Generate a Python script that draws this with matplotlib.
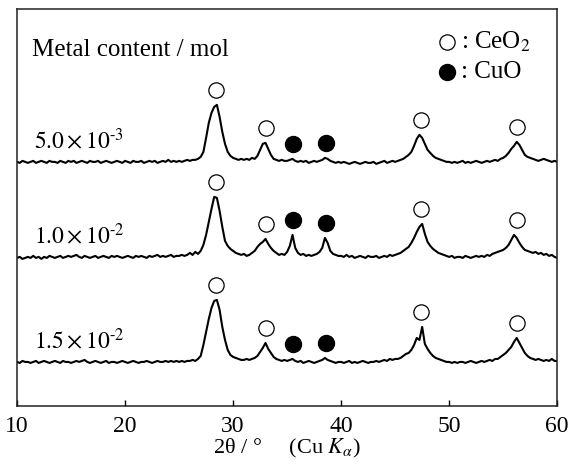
import numpy as np
import matplotlib
matplotlib.use("Agg")
import matplotlib.pyplot as plt

plt.rcParams["font.family"] = ["Liberation Serif", "DejaVu Serif"]
plt.rcParams["mathtext.fontset"] = "stix"

# 2theta grid, 10..60 deg in 0.25 deg steps
two_theta = np.arange(10.0, 60.001, 0.25)

# intensities (a.u.), one row = 5 deg
int_5e3 = [
    0, -1, 1, 0, -1, 0, 1, -1, 0, 1, 0, -1, 1, 0, 0, -1, 1, 0, -1, 1,
    0, 1, -1, 0, 1, 0, -1, 1, 0, 0, 1, -1, 0, 1, 0, -1, 0, 1, 0, -1,
    1, 0, -1, 1, 0, 0, 1, -1, 0, 1, 0, 1, -1, 0, 1, 0, 2, 0, 1, 0,
    1, 0, 1, 2, 1, 2, 2, 3, 5, 10, 24, 39, 49, 55, 57, 45, 30, 18, 10, 6,
    4, 3, 2, 3, 2, 3, 2, 4, 3, 6, 12, 18, 19, 13, 7, 3, 2, 1, 2, 1,
    1, 2, 3, 1, 0, 1, 0, 1, -1, 0, 1, 0, 1, 2, 4, 3, 1, 0, -1, 0,
    -1, 0, -1, -2, -1, 0, -1, -2, -1, 0, -1, -1, 0, -2, -1, 0, 1, -1, 0, 1,
    0, 1, 2, 3, 5, 7, 10, 16, 23, 27, 24, 18, 12, 9, 6, 4, 3, 2, 1, 0,
    0, -1, 0, -1, 0, 1, -1, 0, -1, 0, 1, 0, -1, 0, 1, 0, 1, 2, 1, 3,
    4, 6, 9, 13, 16, 20, 17, 12, 7, 5, 4, 3, 2, 1, 2, 3, 2, 1, 0, 1,
    0,
]
int_1e2 = [
    -1, 0, -2, -1, 0, -1, 1, -1, 0, -2, 0, -1, 1, 0, -1, 0, 1, -1, 0, 1,
    0, 1, 2, 0, -1, 1, 0, -1, 0, 1, -1, 0, 1, 0, -1, 1, 0, 1, 0, -1,
    0, 1, 0, -1, 1, 0, 1, 0, -1, 1, 0, 1, 2, 0, 1, 0, 1, 2, 0, 1,
    1, 2, 1, 2, 4, 2, 5, 3, 6, 12, 22, 35, 48, 60, 59, 46, 30, 16, 11, 8,
    6, 4, 3, 2, 3, 1, 2, 4, 6, 10, 13, 15, 18, 13, 9, 6, 4, 2, 3, 2,
    5, 11, 22, 9, 4, 2, 3, 1, 2, 1, 2, 3, 5, 9, 19, 14, 6, 3, 2, 1,
    1, 0, 2, 0, 1, -1, 0, 1, 0, -1, 1, 0, 0, 1, -1, 0, 1, 0, 2, 1,
    2, 3, 4, 6, 8, 10, 14, 19, 25, 30, 33, 23, 15, 11, 8, 6, 4, 3, 2, 1,
    0, 1, -1, 0, 0, -1, 1, 0, -1, 0, 1, 0, 1, 0, 2, 1, 3, 4, 5, 6,
    7, 9, 12, 17, 22, 19, 14, 10, 7, 6, 5, 4, 5, 3, 4, 2, 3, 1, 2, 0,
    -1,
]
int_15e2 = [
    0, -1, 1, 0, 0, -1, 0, 1, -1, 0, 1, 0, -1, 0, 1, 0, -1, 1, 0, 0,
    -1, 0, 1, 0, 1, 2, 0, -1, 0, 1, 0, -1, 0, 1, -1, 0, 0, -1, 0, 1,
    0, -1, 0, 1, 0, -1, 0, 0, 1, 0, -1, 0, 1, 0, 0, 1, 0, 1, 0, 1,
    0, 1, 0, 1, 1, 2, 1, 3, 6, 17, 30, 43, 54, 61, 62, 52, 35, 22, 12, 7,
    5, 4, 3, 2, 2, 3, 2, 3, 4, 6, 10, 14, 19, 13, 9, 5, 3, 2, 1, 2,
    1, 2, 3, 1, 0, 1, -1, 0, 1, 0, -1, 0, 1, 2, 4, 2, 1, 0, -1, 0,
    0, -1, 0, 1, -1, 0, -1, 0, 1, 0, -1, 0, 0, 1, 0, 1, 2, 1, 3, 2,
    3, 3, 4, 6, 8, 9, 12, 17, 24, 22, 35, 18, 13, 9, 6, 4, 3, 2, 1, 0,
    0, -1, 0, -1, 0, 0, -1, 0, 1, 0, -1, 0, 1, 0, 1, 2, 1, 3, 3, 5,
    7, 9, 12, 15, 20, 24, 19, 14, 9, 6, 4, 3, 2, 3, 2, 1, 2, 1, 3, 1,
    1,
]

samples = ["$5.0\\times10^{\\text{-}3}$", "$1.0\\times10^{\\text{-}2}$",
           "$1.5\\times10^{\\text{-}2}$"]
patterns = [int_5e3, int_1e2, int_15e2]
offsets = [244, 149, 44]

ceo2_peaks = [28.4, 33.0, 47.4, 56.3]
cuo_peaks = [35.5, 38.6]

fig = plt.figure(figsize=(5.68, 4.65), dpi=100)
ax = fig.add_axes([0.030, 0.127, 0.951, 0.854])

open_mk = dict(marker="o", ms=11, mfc="white", mec="black", mew=0.9, ls="none")
full_mk = dict(marker="o", ms=11.5, color="black", ls="none")

for name, y, off in zip(samples, patterns, offsets):
    y = np.array(y, dtype=float)
    ax.plot(two_theta, y + off, color="black", lw=1.5)
    ax.text(11.6, off + 21, name, fontsize=17, va="center", ha="left")
    for p in ceo2_peaks:
        m = np.abs(two_theta - p) <= 0.4
        ax.plot(p, y[m].max() + off + 15, **open_mk)
    for p in cuo_peaks:
        m = np.abs(two_theta - p) <= 0.4
        ax.plot(p, y[m].max() + off + 15, **full_mk)

ax.text(0.028, 0.897, "Metal content / mol", transform=ax.transAxes,
        fontsize=18, va="center", ha="left")

# phase key
ax.plot(0.796, 0.917, transform=ax.transAxes, **open_mk)
ax.plot(0.796, 0.841, transform=ax.transAxes, **full_mk)
ax.text(0.822, 0.917, ": CeO$_2$", transform=ax.transAxes, fontsize=18,
        va="center", ha="left")
ax.text(0.822, 0.841, ": CuO", transform=ax.transAxes, fontsize=18,
        va="center", ha="left")

ax.set_xlim(10, 60)
ax.set_ylim(0, 397)
ax.set_yticks([])
ax.set_xticks([10, 20, 30, 40, 50, 60])
ax.tick_params(axis="x", direction="in", length=4, width=1,
               labelsize=17, pad=7)
for s in ax.spines.values():
    s.set_linewidth(1.1)
    s.set_color("#222222")
ax.set_xlabel("2θ / °     (Cu $K_{\\alpha}$)", fontsize=16, labelpad=0)

fig.savefig("out.png", dpi=100)
